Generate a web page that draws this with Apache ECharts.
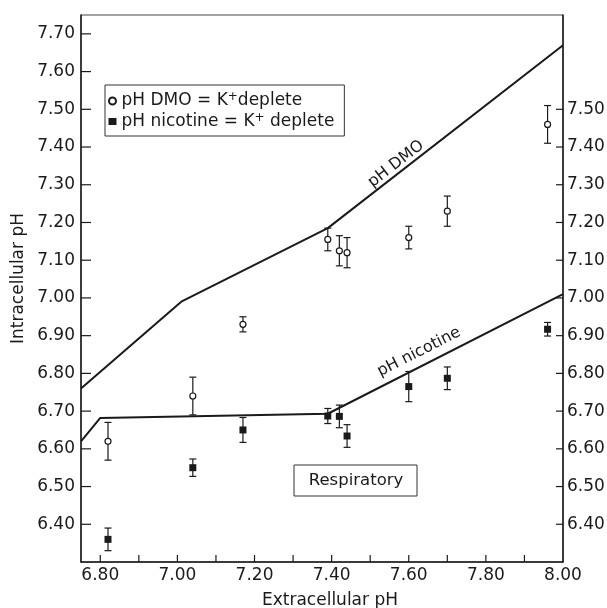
<!DOCTYPE html>
<html>
<head>
<meta charset="utf-8">
<script src="https://cdn.jsdelivr.net/npm/echarts@6/dist/echarts.min.js"></script>
<style>
html,body{margin:0;padding:0;background:#fff;}
#chart{width:607px;height:608px;}
</style>
</head>
<body>
<div id="chart"></div>
<script>
// ---- data ----
var dmoLineX = [6.75, 7.01, 7.39, 8.00];
var dmoLineY = [6.76, 6.99, 7.185, 7.67];
var nicLineX = [6.75, 6.80, 7.39, 8.00];
var nicLineY = [6.62, 6.682, 6.693, 7.01];

var dmoX   = [6.82, 7.04, 7.17, 7.39, 7.42, 7.44, 7.60, 7.70, 7.96];
var dmoY   = [6.62, 6.74, 6.93, 7.155, 7.125, 7.12, 7.16, 7.23, 7.46];
var dmoErr = [0.05, 0.05, 0.02, 0.03, 0.04, 0.04, 0.03, 0.04, 0.05];

var nicX   = [6.82, 7.04, 7.17, 7.39, 7.42, 7.44, 7.60, 7.70, 7.96];
var nicY   = [6.36, 6.55, 6.65, 6.687, 6.686, 6.634, 6.765, 6.787, 6.917];
var nicErr = [0.03, 0.023, 0.033, 0.02, 0.03, 0.03, 0.04, 0.03, 0.018];

var xMin = 6.75, xMax = 8.0, yMin = 6.3, yMax = 7.75;
var xTickValues  = [6.8, 6.9, 7.0, 7.1, 7.2, 7.3, 7.4, 7.5, 7.6, 7.7, 7.8, 7.9];
var xLabelValues = [6.8, 7.0, 7.2, 7.4, 7.6, 7.8, 8.0];
var yLeftValues  = [6.4, 6.5, 6.6, 6.7, 6.8, 6.9, 7.0, 7.1, 7.2, 7.3, 7.4, 7.5, 7.6, 7.7];
var yRightValues = [6.4, 6.5, 6.6, 6.7, 6.8, 6.9, 7.0, 7.1, 7.2, 7.3, 7.4, 7.5];

var dmoName = 'pH DMO = K+deplete';
var nicName = 'pH nicotine = K+ deplete';

// ---- build ----
function zip(xs, ys) { return xs.map(function (x, i) { return [x, ys[i]]; }); }
function zip3(xs, ys, es) { return xs.map(function (x, i) { return [x, ys[i], es[i]]; }); }

var FONT = 'DejaVu Sans';
var INK = '#1a1a1a';
var FS = 17;

function errRender(params, api) {
  var x = api.value(0), y = api.value(1), e = api.value(2);
  var lo = api.coord([x, y - e]);
  var hi = api.coord([x, y + e]);
  var w = 3.5;
  var st = { stroke: INK, lineWidth: 1.2 };
  return {
    type: 'group',
    children: [
      { type: 'line', shape: { x1: lo[0], y1: lo[1], x2: hi[0], y2: hi[1] }, style: st },
      { type: 'line', shape: { x1: lo[0] - w, y1: lo[1], x2: lo[0] + w, y2: lo[1] }, style: st },
      { type: 'line', shape: { x1: hi[0] - w, y1: hi[1], x2: hi[0] + w, y2: hi[1] }, style: st }
    ]
  };
}

// inward-pointing axis ticks: [x, y, kind] kind 0 = bottom, 1 = left, 2 = right
var tickData = []
  .concat(xTickValues.map(function (v) { return [v, yMin, 0]; }))
  .concat(yLeftValues.map(function (v) { return [xMin, v, 1]; }))
  .concat(yRightValues.map(function (v) { return [xMax, v, 2]; }));

function tickRender(params, api) {
  var p = api.coord([api.value(0), api.value(1)]);
  var k = api.value(2);
  var s;
  if (k === 0) s = { x1: p[0], y1: p[1], x2: p[0], y2: p[1] - 7 };
  else if (k === 1) s = { x1: p[0], y1: p[1], x2: p[0] + 10, y2: p[1] };
  else s = { x1: p[0], y1: p[1], x2: p[0] - 7, y2: p[1] };
  return { type: 'line', shape: s, style: { stroke: INK, lineWidth: 1.2 } };
}

var chart = echarts.init(document.getElementById('chart'), null, { renderer: 'canvas' });

var option = {
  backgroundColor: '#fff',
  animation: false,
  textStyle: { fontFamily: FONT, color: INK },
  grid: { left: 81, right: 44, top: 15, bottom: 46, containLabel: false, outerBoundsMode: 'none',
    show: true, borderColor: '#444', borderWidth: 1 },
  legend: {
    left: 105, top: 85,
    orient: 'vertical',
    itemGap: 2,
    itemWidth: 8, itemHeight: 7,
    padding: [6, 10, 6, 3],
    borderColor: '#333', borderWidth: 1,
    data: [{ name: dmoName, icon: 'circle' }, { name: nicName, icon: 'rect' }],
    formatter: function (n) {
      return n === dmoName
        ? '{t|pH DMO = K}{s|+}{t|deplete}'
        : '{t|pH nicotine = K}{s|+}{t| deplete}';
    },
    textStyle: {
      fontFamily: FONT, fontSize: 17, color: INK,
      rich: {
        t: { fontFamily: FONT, fontSize: 17, color: INK },
        s: { fontFamily: FONT, fontSize: 12, color: INK, padding: [0, 0, 8, 0] }
      }
    }
  },
  xAxis: {
    type: 'value', min: xMin, max: xMax,
    name: 'Extracellular pH', nameLocation: 'middle', nameGap: 30, nameMoveOverlap: false,
    nameTextStyle: { fontFamily: FONT, fontSize: FS, color: INK, padding: [0, 0, 0, 16] },
    axisLine: { lineStyle: { color: INK, width: 1.5 } },
    axisTick: { show: false },
    axisLabel: { customValues: xLabelValues, formatter: function (v) { return v.toFixed(2); },
      fontFamily: FONT, fontSize: FS, color: INK, margin: 5 },
    splitLine: { show: false }
  },
  yAxis: [{
    type: 'value', min: yMin, max: yMax, position: 'left',
    name: 'Intracellular pH', nameLocation: 'middle', nameGap: 54, nameMoveOverlap: false,
    nameTextStyle: { fontFamily: FONT, fontSize: FS, color: INK, padding: [0, 0, 0, 20] },
    axisLine: { show: true, lineStyle: { color: INK, width: 1.5 } },
    axisTick: { show: false },
    axisLabel: { customValues: yLeftValues, formatter: function (v) { return v.toFixed(2); },
      fontFamily: FONT, fontSize: FS, color: INK, margin: 6 },
    splitLine: { show: false }
  }, {
    type: 'value', min: yMin, max: yMax, position: 'right',
    axisLine: { show: true, lineStyle: { color: INK, width: 1.5 } },
    axisTick: { show: false },
    axisLabel: { customValues: yRightValues, formatter: function (v) { return v.toFixed(2); },
      fontFamily: FONT, fontSize: FS, color: INK, margin: 4 },
    splitLine: { show: false }
  }],
  series: [
    { type: 'custom', name: 'ticks', renderItem: tickRender, data: tickData,
      encode: { x: 0, y: 1 }, z: 5, silent: true, clip: false },
    { type: 'line', name: 'DMO line', data: zip(dmoLineX, dmoLineY), showSymbol: false, symbol: 'none',
      lineStyle: { color: INK, width: 2 }, z: 2, silent: true },
    { type: 'line', name: 'nicotine line', data: zip(nicLineX, nicLineY), showSymbol: false, symbol: 'none',
      lineStyle: { color: INK, width: 2 }, z: 2, silent: true },
    { type: 'custom', name: 'DMO err', renderItem: errRender, data: zip3(dmoX, dmoY, dmoErr),
      encode: { x: 0, y: 1 }, z: 3, silent: true },
    { type: 'custom', name: 'nic err', renderItem: errRender, data: zip3(nicX, nicY, nicErr),
      encode: { x: 0, y: 1 }, z: 3, silent: true },
    { type: 'scatter', name: dmoName, data: zip(dmoX, dmoY), symbol: 'circle', symbolSize: 6,
      itemStyle: { color: '#fff', borderColor: INK, borderWidth: 1.2, opacity: 1 }, z: 4 },
    { type: 'scatter', name: nicName, data: zip(nicX, nicY), symbol: 'rect', symbolSize: 7,
      itemStyle: { color: INK, opacity: 1 }, z: 4 }
  ],
  graphic: [
    { type: 'rect', shape: { x: 294, y: 465, width: 123, height: 31 },
      style: { fill: '#fff', stroke: '#333', lineWidth: 1 }, z: 10 },
    { type: 'text', x: 356, y: 481, z: 11,
      style: { text: 'Respiratory', fontFamily: FONT, fontSize: 16.5, fill: INK, textAlign: 'center', textVerticalAlign: 'middle' } },
    { type: 'text', x: 396, y: 164, rotation: 0.66, z: 11,
      style: { text: 'pH DMO', fontFamily: FONT, fontSize: 16, fill: INK, textAlign: 'center', textVerticalAlign: 'middle' } },
    { type: 'text', x: 419, y: 352, rotation: 0.47, z: 11,
      style: { text: 'pH nicotine', fontFamily: FONT, fontSize: 16, fill: INK, textAlign: 'center', textVerticalAlign: 'middle' } }
  ]
};
chart.setOption(option);
</script>
</body>
</html>
